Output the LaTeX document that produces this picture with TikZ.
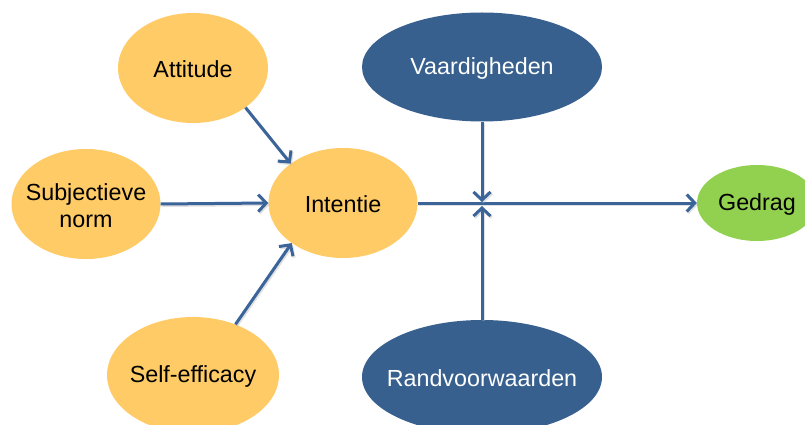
\documentclass[tikz,border=0pt]{standalone}
\usepackage{fontspec}
\setmainfont{Liberation Sans}
\usetikzlibrary{shapes.geometric,arrows.meta}
\definecolor{orangefill}{HTML}{FECB66}
\definecolor{bluefill}{HTML}{37608F}
\definecolor{greenfill}{HTML}{92D050}
\definecolor{arrowblue}{HTML}{3A649A}
\begin{document}
\begin{tikzpicture}[x=1pt,y=-1pt,
  txt/.style={font=\fontsize{23.3}{27}\selectfont, align=center, inner sep=0pt},
  oval/.style={ellipse, draw=none, inner sep=0pt},
  orangeoval/.style={oval, fill=orangefill, label={[txt, text=black, yshift=-1.5pt]center:#1}},
  blueoval/.style={oval, fill=bluefill, label={[txt, text=white, yshift=-1.5pt]center:#1}},
  greenoval/.style={oval, fill=greenfill, label={[txt, text=black, yshift=-1.5pt]center:#1}},
  conn/.style={draw=arrowblue, line width=3pt, -{Straight Barb[length=8pt,width=17pt]},
    preaction={draw=black!30, opacity=0.4, line width=3pt, transform canvas={shift={(1.2pt,-1.5pt)}}}}
]
\useasboundingbox (0,0) rectangle (805,425);
\clip (0,0) rectangle (805,425);
\fill[white] (0,0) rectangle (805,425);

\node[orangeoval={Attitude}, minimum width=150pt, minimum height=110pt] (att) at (193,68) {};
\node[orangeoval={Subjectieve\\norm}, minimum width=149pt, minimum height=110pt] (sub) at (86,204) {};
\node[orangeoval={Intentie}, minimum width=149pt, minimum height=110pt] (int) at (343,203) {};
\node[orangeoval={Self-efficacy}, minimum width=172pt, minimum height=116pt] (sef) at (193,375) {};
\node[blueoval={Vaardigheden}, minimum width=240pt, minimum height=109pt] (vaa) at (482,67) {};
\node[blueoval={Randvoorwaarden}, minimum width=240pt, minimum height=114pt] (ran) at (482,377) {};
\node[greenoval={Gedrag}, minimum width=120pt, minimum height=76pt] (ged) at (757,203) {};

\coordinate (xt) at (482,202);
\coordinate (xb) at (482,206);

\draw[conn] (att.-37) -- (int.143);
\draw[conn] (sub.east) -- (int.west);
\draw[conn] (sef.50) -- (int.218);
\draw[conn] (int.east) -- (ged.west);
\draw[conn] (vaa.south) -- (xt);
\draw[conn] (ran.north) -- (xb);
\end{tikzpicture}
\end{document}
